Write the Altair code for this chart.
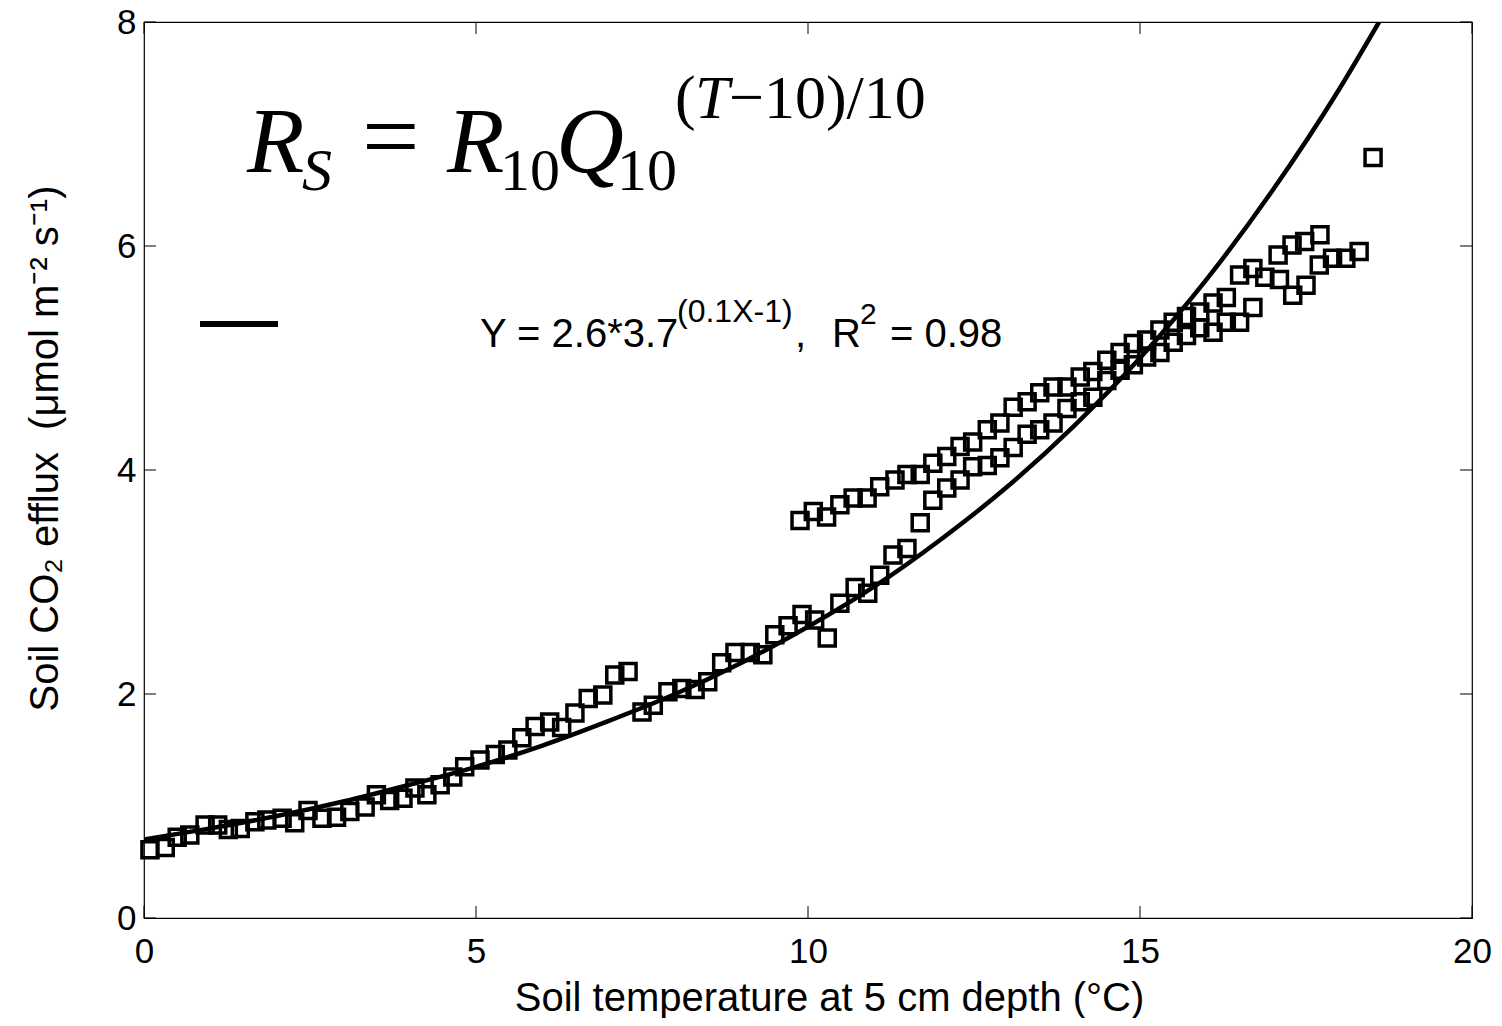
import altair as alt
import pandas as pd

# ---- data ----
temp = [0.09, 0.32, 0.50, 0.69, 0.92, 1.11, 1.27, 1.45, 1.67, 1.85, 2.08, 2.27, 2.47, 2.68, 2.90,
        3.10, 3.33, 3.50, 3.70, 3.90, 4.08, 4.26, 4.46, 4.65, 4.83, 5.06, 5.29, 5.48, 5.69, 5.89,
        6.11, 6.29, 6.49, 6.69, 6.91, 7.09, 7.29,
        7.50, 7.67, 7.89, 8.10, 8.30, 8.49, 8.70, 8.90, 9.13, 9.32, 9.50, 9.70, 9.91, 10.10, 10.29,
        10.48, 10.71, 10.90, 11.08, 11.28, 11.49, 11.69, 11.88, 12.09, 12.29, 12.48, 12.70, 12.89,
        13.09, 13.30, 13.49, 13.69, 13.90, 14.10, 14.29, 14.50, 14.70, 14.90, 15.10, 15.30, 15.50,
        15.70, 15.90, 16.10, 16.30, 16.50, 16.70,
        9.88, 10.08, 10.28, 10.48, 10.68, 10.89, 11.08, 11.31, 11.49, 11.69, 11.88, 12.09, 12.29,
        12.48, 12.70, 12.89, 13.09, 13.30, 13.49, 13.69, 13.90, 14.10, 14.29, 14.50, 14.70, 14.90,
        15.10, 15.30, 15.50, 15.70, 15.90, 16.10, 16.30, 16.50, 16.70, 16.88, 17.10, 17.30, 17.50,
        17.70, 17.90, 18.10, 18.30,
        17.08, 17.29, 17.48, 17.71, 18.51]
efflux = [0.61, 0.63, 0.72, 0.74, 0.83, 0.83, 0.79, 0.80, 0.86, 0.875, 0.89, 0.85, 0.96, 0.89, 0.90,
          0.95, 0.99, 1.10, 1.05, 1.07, 1.16, 1.10, 1.19, 1.26, 1.35, 1.41, 1.46, 1.50, 1.61, 1.71,
          1.75, 1.70, 1.83, 1.96, 1.99, 2.17, 2.20,
          1.84, 1.90, 2.02, 2.05, 2.04, 2.11, 2.28, 2.37, 2.37, 2.35, 2.53, 2.61, 2.71, 2.66, 2.50,
          2.81, 2.95, 2.90, 3.06, 3.24, 3.30, 3.53, 3.73, 3.84, 3.91, 4.03, 4.04, 4.11,
          4.20, 4.32, 4.36, 4.42, 4.55, 4.61, 4.65, 4.80, 4.89, 4.94, 5.01, 5.05, 5.14,
          5.20, 5.27, 5.23, 5.32, 5.32, 5.45,
          3.55, 3.63, 3.58, 3.69, 3.75, 3.75, 3.85, 3.91, 3.96, 3.96, 4.06, 4.12, 4.21,
          4.25, 4.36, 4.42, 4.56, 4.61, 4.69, 4.74, 4.74, 4.83, 4.88, 4.98, 5.05, 5.13,
          5.16, 5.25, 5.32, 5.37, 5.41, 5.49, 5.54, 5.74, 5.80, 5.72, 5.70, 5.56, 5.65,
          5.83, 5.89, 5.89, 5.95,
          5.92, 6.01, 6.04, 6.10, 6.79]

# fitted curve
curve_t = [0, 1, 2, 3, 4, 5, 6, 7, 8, 9, 10, 11, 12, 13, 14, 15, 16, 17, 18, 18.6]
curve_r = [0.70, 0.80, 0.91, 1.04, 1.19, 1.35, 1.54, 1.76, 2.00, 2.28, 2.60, 2.96, 3.38, 3.85,
           4.39, 5.00, 5.70, 6.50, 7.40, 8.00]

x_ticks = [0, 5, 10, 15, 20]
y_ticks = [0, 2, 4, 6, 8]

W, H = 1328, 896
SANS = "Liberation Sans"
SERIF = "Liberation Serif"
NB = "\u00a0"

pts = pd.DataFrame({"t": temp, "r": efflux})
crv = pd.DataFrame({"t": curve_t, "r": curve_r})
xt = pd.DataFrame({"v": x_ticks})
yt = pd.DataFrame({"v": y_ticks})

xs = alt.Scale(domain=[0, 20], nice=False, zero=False)
ys = alt.Scale(domain=[0, 8], nice=False, zero=False)

x_axis = alt.Axis(values=x_ticks, format="d", ticks=False, tickSize=0, grid=False, domain=False,
                  labelFont=SANS, labelFontSize=35, labelColor="black", labelPadding=16,
                  labelFlush=False, labelOverlap=False,
                  title="Soil temperature at 5 cm depth (°C)", titleFont=SANS,
                  titleFontSize=40, titleFontWeight="normal", titleColor="black",
                  titleX=685, titleY=80, titleAlign="center", titleBaseline="middle")
y_axis = alt.Axis(values=y_ticks, format="d", ticks=False, tickSize=0, grid=False, domain=False,
                  labelFont=SANS, labelFontSize=35, labelColor="black", labelPadding=8,
                  labelFlush=False, labelOverlap=False,
                  title="Soil CO₂ efflux" + NB + NB + "(μmol m⁻² s⁻¹)", titleFont=SANS,
                  titleFontSize=40, titleFontWeight="normal", titleColor="black",
                  titleX=-99, titleY=426, titleAngle=270, titleAlign="center",
                  titleBaseline="middle")

points = alt.Chart(pts).mark_point(shape="square", filled=False, stroke="black",
                                   strokeWidth=3.5, size=256, opacity=1).encode(
    x=alt.X("t:Q", scale=xs, axis=x_axis),
    y=alt.Y("r:Q", scale=ys, axis=y_axis),
)

line = alt.Chart(crv).mark_line(color="black", strokeWidth=4.5, interpolate="monotone",
                                clip=True).encode(
    x=alt.X("t:Q", scale=xs), y=alt.Y("r:Q", scale=ys))

tick_b = alt.Chart(xt).mark_rule(color="black", strokeWidth=1).encode(
    x=alt.X("v:Q", scale=xs), y=alt.value(H), y2=alt.value(H - 12))
tick_t = alt.Chart(xt).mark_rule(color="black", strokeWidth=1).encode(
    x=alt.X("v:Q", scale=xs), y=alt.value(0), y2=alt.value(12))
tick_l = alt.Chart(yt).mark_rule(color="black", strokeWidth=1).encode(
    y=alt.Y("v:Q", scale=ys), x=alt.value(0), x2=alt.value(12))
tick_r = alt.Chart(yt).mark_rule(color="black", strokeWidth=1).encode(
    y=alt.Y("v:Q", scale=ys), x=alt.value(W), x2=alt.value(W - 12))

# annotation pieces: text, x, y (pixels in plot area), size, font, style
pieces = [
    ("R", 103, 150, 94, SERIF, "italic"),
    ("S", 158, 168, 60, SERIF, "italic"),
    ("=", 218, 148, 102, SERIF, "normal"),
    ("R", 303, 150, 94, SERIF, "italic"),
    ("10", 356, 168, 60, SERIF, "normal"),
    ("Q", 412, 150, 94, SERIF, "italic"),
    ("10", 473, 168, 60, SERIF, "normal"),
    ("(", 531, 96, 62, SERIF, "normal"),
    ("T", 551, 96, 62, SERIF, "italic"),
    ("−10)/10", 585, 96, 62, SERIF, "normal"),
    ("Y = 2.6*3.7", 336, 325, 40, SANS, "normal"),
    ("(0.1X-1)", 533, 300, 32, SANS, "normal"),
    (",", 651, 325, 40, SANS, "normal"),
    ("R", 688, 325, 40, SANS, "normal"),
    ("2", 716, 302, 30, SANS, "normal"),
    ("= 0.98", 746, 325, 40, SANS, "normal"),
]
ann = []
for txt, px, py, fs, fnt, sty in pieces:
    ann.append(alt.Chart(pd.DataFrame({"s": [txt]})).mark_text(
        align="left", baseline="alphabetic", font=fnt, fontSize=fs, fontStyle=sty,
        color="black").encode(text="s:N", x=alt.value(px), y=alt.value(py)))

legend_line = alt.Chart(pd.DataFrame({"a": [0]})).mark_rule(
    color="black", strokeWidth=6).encode(x=alt.value(56), x2=alt.value(134), y=alt.value(302))

chart = alt.layer(line, points, tick_b, tick_t, tick_l, tick_r, legend_line, *ann).properties(
    width=W, height=H,
    autosize=alt.AutoSizeParams(type="none"),
    padding={"left": 136, "top": 14, "right": 22, "bottom": 100},
    background="white",
).configure_view(stroke="black", strokeWidth=1.2)

chart.save("out.html", embed_options={"renderer": "svg", "actions": False})
